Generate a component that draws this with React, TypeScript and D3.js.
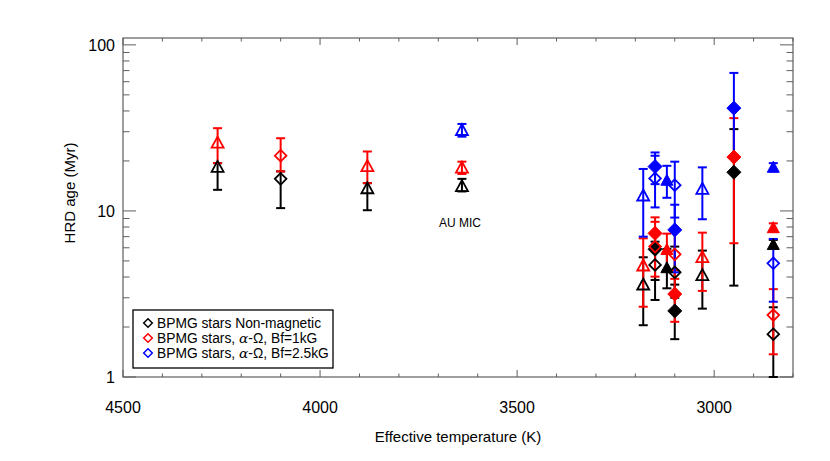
import React from 'react';
import * as d3 from 'd3';

// one entry per star (shared by the three model runs)
const starTeff = [4260, 4100, 3880, 3640, 3180, 3150, 3150, 3120, 3100, 3100, 3030, 2950, 2850, 2850];
const starSymbol = [
  'tri-open', 'dia-open', 'tri-open', 'tri-open', 'tri-open', 'dia-fill', 'dia-open',
  'tri-fill', 'dia-open', 'dia-fill', 'tri-open', 'dia-fill', 'tri-fill', 'dia-open',
];

// Non-magnetic models
const ageNonMag = [18.3, 15.6, 13.6, 14.0, 3.58, 5.88, 4.73, 4.52, 4.27, 2.5, 4.08, 17.1, 6.24, 1.81];
const loNonMag = [13.4, 10.4, 10.1, 13.1, 2.05, 3.84, 2.91, 3.42, 3.0, 1.69, 2.58, 3.55, 5.96, 1.0];
const hiNonMag = [19.4, 17.3, 14.7, 15.6, 5.26, 6.53, 6.16, 5.9, 6.1, 3.6, 5.77, 31.1, 6.69, 2.63];

// alpha-Omega, Bf = 1 kG
const ageBf1 = [25.6, 21.5, 18.5, 18.1, 4.66, 7.33, 6.1, 5.82, 5.48, 3.16, 5.23, 21.1, 7.87, 2.36];
const loBf1 = [19.4, 17.3, 14.7, 16.7, 2.65, 5.9, 4.02, 4.41, 3.9, 2.15, 3.3, 6.39, 7.51, 1.37];
const hiBf1 = [31.5, 27.4, 22.8, 19.8, 6.84, 9.15, 8.6, 7.3, 7.8, 4.4, 7.4, 36.2, 8.42, 3.38];

// alpha-Omega, Bf = 2.5 kG (no value for the three hottest stars)
const ageBf25 = [null, null, null, 30.5, 12.3, 18.5, 15.7, 15.2, 14.3, 7.69, 13.5, 41.6, 18.2, 4.84];
const loBf25 = [null, null, null, 28.0, 7.0, 14.5, 10.5, 12.0, 9.12, 4.27, 8.91, 21.0, 17.3, 2.84];
const hiBf25 = [null, null, null, 33.4, 17.9, 22.5, 21.5, 18.7, 19.8, 10.9, 18.3, 67.8, 19.4, 6.78];

const xMajorTicks = [4500, 4000, 3500, 3000];
const yMajorTicks = [1, 10, 100];

const legendLabels = ['BPMG stars Non-magnetic', 'BPMG stars, ', 'BPMG stars, '];
const legendSuffix = ['', '-\u03A9, Bf=1kG', '-\u03A9, Bf=2.5kG'];

const series = [
  { color: '#000000', age: ageNonMag, lo: loNonMag, hi: hiNonMag },
  { color: '#ff0000', age: ageBf1, lo: loBf1, hi: hiBf1 },
  { color: '#0000ff', age: ageBf25, lo: loBf25, hi: hiBf25 },
];

const FONT = '"Liberation Sans", Arial, Helvetica, sans-serif';
const AXIS = '#5e5e5e';

function Symbol({ kind, cx, cy, color }: { kind: string; cx: number; cy: number; color: string }) {
  const filled = kind.endsWith('fill');
  let p: string;
  if (kind.startsWith('dia')) {
    const r = filled ? 7 : 5.8;
    p = `M${cx},${cy - r}L${cx + r},${cy}L${cx},${cy + r}L${cx - r},${cy}Z`;
  } else {
    p = `M${cx},${cy - 6.5}L${cx + 6},${cy + 4.5}L${cx - 6},${cy + 4.5}Z`;
  }
  return filled
    ? <path d={p} fill={color} stroke={color} strokeWidth={1} />
    : <path d={p} fill="none" stroke={color} strokeWidth={1.8} />;
}

export default function App() {
  const left = 123, right = 793, top = 38, bottom = 377;
  const x = d3.scaleLinear().domain([4500, 2800]).range([left, right]);
  const y = d3.scaleLog().domain([1, 110]).range([bottom, top]);

  const xMinor = d3.range(4500, 2799, -100).filter(t => !xMajorTicks.includes(t));
  const yMinor: number[] = [];
  [1, 10].forEach(d => d3.range(2, 10).forEach(k => yMinor.push(k * d)));

  const capW = 4.5;

  return (
    <svg width={830} height={461} style={{ position: 'absolute', left: 0, top: 0, background: '#fff' }}>
      {/* frame */}
      <rect x={left} y={top} width={right - left} height={bottom - top} fill="none" stroke={AXIS} strokeWidth={1.2} />

      {/* x ticks, bottom and top */}
      {xMajorTicks.map(t => (
        <g key={'xM' + t} stroke={AXIS} strokeWidth={1}>
          <line x1={x(t)} x2={x(t)} y1={bottom} y2={bottom - 7} />
          <line x1={x(t)} x2={x(t)} y1={top} y2={top + 7} />
        </g>
      ))}
      {xMinor.map(t => (
        <g key={'xm' + t} stroke={AXIS} strokeWidth={1}>
          <line x1={x(t)} x2={x(t)} y1={bottom} y2={bottom - 3.5} />
          <line x1={x(t)} x2={x(t)} y1={top} y2={top + 3.5} />
        </g>
      ))}
      {xMajorTicks.map(t => (
        <text key={'xl' + t} x={x(t)} y={413} textAnchor="middle" fontFamily={FONT} fontSize={16} fill="#000">{t}</text>
      ))}

      {/* y ticks, left and right */}
      {yMajorTicks.map(t => (
        <g key={'yM' + t} stroke={AXIS} strokeWidth={1}>
          <line x1={left} x2={left + 13} y1={y(t)} y2={y(t)} />
          <line x1={right} x2={right - 13} y1={y(t)} y2={y(t)} />
        </g>
      ))}
      {yMinor.map(t => (
        <g key={'ym' + t} stroke={AXIS} strokeWidth={1}>
          <line x1={left} x2={left + 6.5} y1={y(t)} y2={y(t)} />
          <line x1={right} x2={right - 6.5} y1={y(t)} y2={y(t)} />
        </g>
      ))}
      {yMajorTicks.map(t => (
        <text key={'yl' + t} x={115} y={y(t) + 6} textAnchor="end" fontFamily={FONT} fontSize={16} fill="#000">{t}</text>
      ))}

      <text x={458} y={442} textAnchor="middle" fontFamily={FONT} fontSize={15} fill="#000">Effective temperature (K)</text>
      <text transform="translate(75,193) rotate(-90)" textAnchor="middle" fontFamily={FONT} fontSize={15} fill="#000">HRD age (Myr)</text>

      {/* error bars: black, red, blue */}
      {series.map((s, si) => (
        <g key={'e' + si} stroke={s.color} strokeWidth={2}>
          {starTeff.map((t, i) => {
            const a = s.age[i];
            if (a == null) return null;
            const cx = x(t);
            const y1 = y(s.lo[i] as number), y2 = y(s.hi[i] as number);
            return (
              <g key={i}>
                <line x1={cx} x2={cx} y1={y1} y2={y2} />
                <line x1={cx - capW} x2={cx + capW} y1={y1} y2={y1} />
                <line x1={cx - capW} x2={cx + capW} y1={y2} y2={y2} />
              </g>
            );
          })}
        </g>
      ))}

      {/* symbols */}
      {series.map((s, si) => (
        <g key={'s' + si}>
          {starTeff.map((t, i) => {
            const a = s.age[i];
            if (a == null) return null;
            return <Symbol key={i} kind={starSymbol[i]} cx={x(t)} cy={y(a)} color={s.color} />;
          })}
        </g>
      ))}

      <text x={460} y={227} textAnchor="middle" fontFamily={FONT} fontSize={12} fill="#000">AU MIC</text>

      {/* legend */}
      <rect x={133} y={310} width={200} height={58} fill="#fff" stroke="#000" strokeWidth={1.3} />
      {series.map((s, i) => {
        const cy = 323 + i * 15;
        const r = 4.3;
        return (
          <g key={'lg' + i}>
            <path d={`M148,${cy - r}L${148 + r},${cy}L148,${cy + r}L${148 - r},${cy}Z`} fill="none" stroke={s.color} strokeWidth={1.5} />
            <text x={157} y={cy + 4.8} fontFamily={FONT} fontSize={13.8} fill="#000">
              {legendLabels[i]}
              {i > 0 && <tspan fontFamily='"DejaVu Serif", "Liberation Serif", serif' fontStyle="italic">{'\u03B1'}</tspan>}
              {legendSuffix[i]}
            </text>
          </g>
        );
      })}
    </svg>
  );
}
